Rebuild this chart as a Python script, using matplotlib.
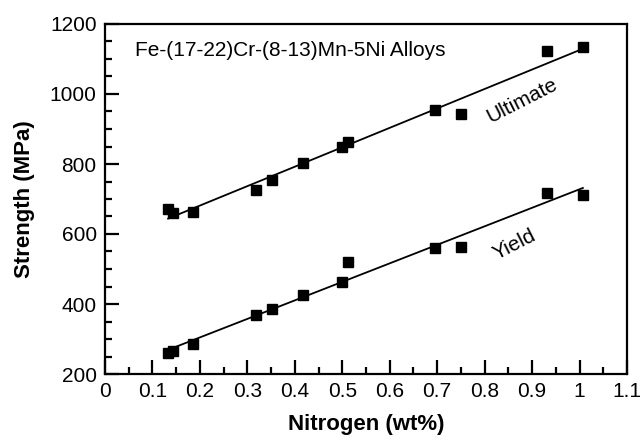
import numpy as np
import matplotlib
matplotlib.use("Agg")
import matplotlib.pyplot as plt
from matplotlib.ticker import MultipleLocator

plt.rcParams['font.family'] = ['Liberation Sans', 'DejaVu Sans']

nitrogen = [0.133, 0.143, 0.185, 0.318, 0.352, 0.417, 0.500, 0.512, 0.695, 0.750, 0.931, 1.007]
ultimate = [672, 661, 663, 727, 753, 802, 849, 864, 953, 942, 1122, 1134]
yield_s = [260, 266, 286, 369, 386, 426, 464, 521, 561, 564, 716, 710]
xtick_labels = ['0', '0.1', '0.2', '0.3', '0.4', '0.5', '0.6', '0.7', '0.8', '0.9', '1', '1.1']

fig = plt.figure(figsize=(6.41, 4.42), dpi=100)
ax = fig.add_axes([105/641, 1-374/442, (627-105)/641, (374-24)/442])

for ys in (ultimate, yield_s):
    ax.plot(nitrogen, ys, 's', color='black', ms=7.5)
    p = np.polyfit(nitrogen, ys, 1)
    xx = np.array([min(nitrogen), max(nitrogen)])
    ax.plot(xx, np.polyval(p, xx), '-', color='black', lw=1.3)

ax.set_xlim(0, 1.1)
ax.set_ylim(200, 1200)
ax.xaxis.set_minor_locator(MultipleLocator(0.05))
ax.yaxis.set_major_locator(MultipleLocator(200))
ax.yaxis.set_minor_locator(MultipleLocator(50))
ax.set_xticks(np.arange(0, 1.11, 0.1))
ax.set_xticklabels(xtick_labels)
ax.tick_params(which='both', direction='in', top=False, right=False, labelsize=15, width=1.6)
ax.tick_params(which='major', length=10, pad=6)
ax.tick_params(which='minor', length=5)
for s in ax.spines.values():
    s.set_linewidth(1.6)

ax.set_xlabel('Nitrogen (wt%)', fontsize=16, fontweight='bold', labelpad=9)
ax.set_ylabel('Strength (MPa)', fontsize=16, fontweight='bold', labelpad=11)

ax.text(0.057, 0.925, 'Fe-(17-22)Cr-(8-13)Mn-5Ni Alloys', transform=ax.transAxes,
        fontsize=15, ha='left', va='center')
ax.text(0.80, 0.78, 'Ultimate', transform=ax.transAxes, fontsize=15, rotation=27,
        ha='center', va='center')
ax.text(0.785, 0.37, 'Yield', transform=ax.transAxes, fontsize=15, rotation=27,
        ha='center', va='center')

fig.savefig('out.png', dpi=100)
